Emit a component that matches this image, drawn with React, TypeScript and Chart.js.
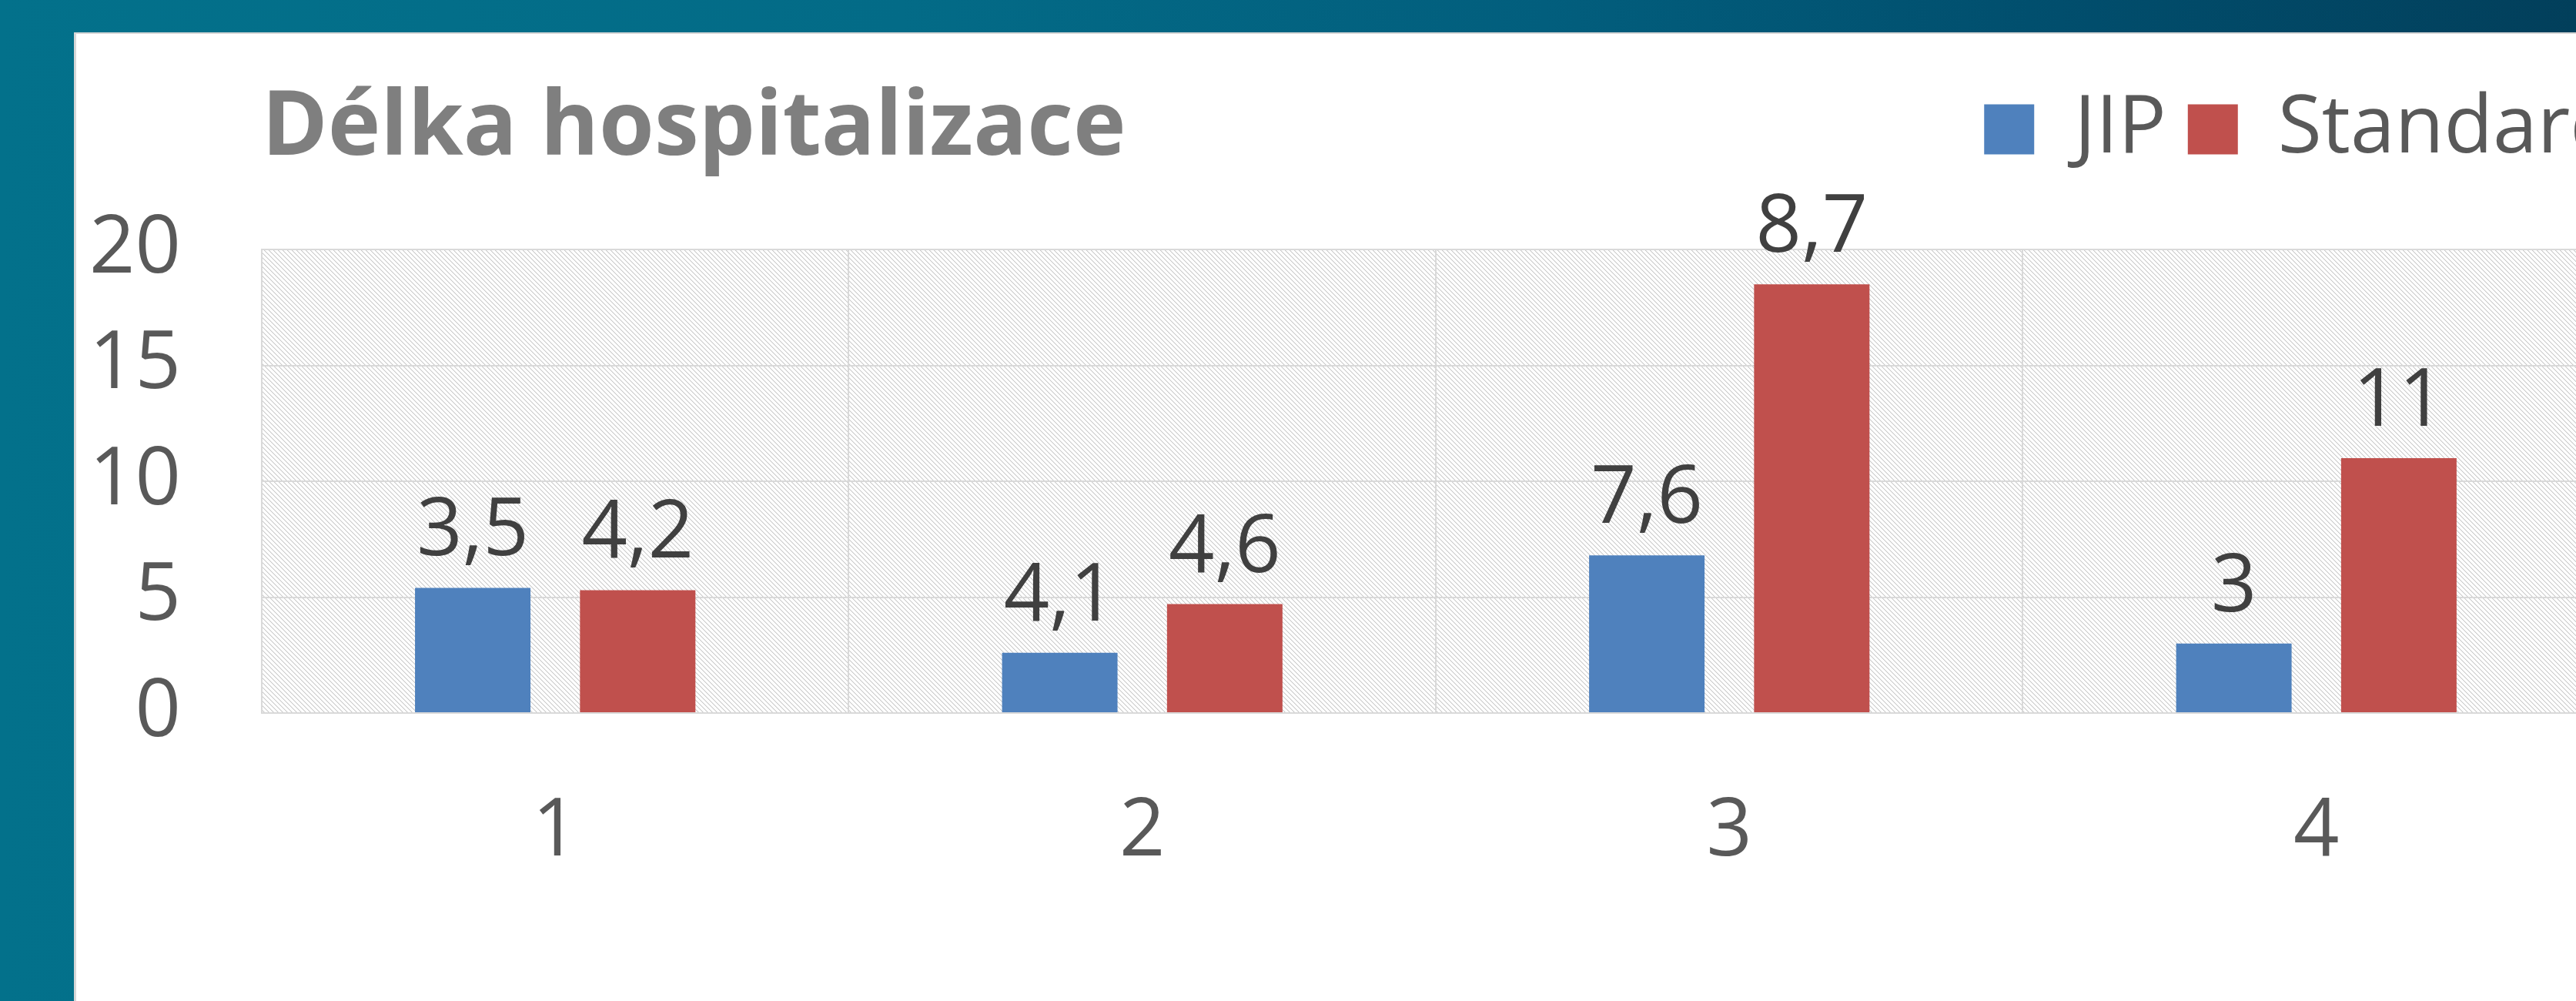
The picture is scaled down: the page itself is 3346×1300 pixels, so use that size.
import React, { useEffect, useRef } from "react";
import { Chart, registerables } from "chart.js";

Chart.register(...registerables);

// ---- data ----
const TITLE = "Délka hospitalizace";
const CATEGORIES = ["1", "2", "3", "4"];
const SERIES_NAMES = ["JIP", "Standard"];
const JIP_VALUES = [5.4, 2.6, 6.8, 3.0];
const STANDARD_VALUES = [5.3, 4.7, 18.5, 11.0];
const JIP_LABELS = [3.5, 4.1, 7.6, 3];
const STANDARD_LABELS = [4.2, 4.6, 8.7, 11];
const Y_MIN = 0;
const Y_MAX = 20;
const Y_STEP = 5;

// ---- style ----
const FONT = '"Open Sans", "Noto Sans", sans-serif';
const FONT_SIZE = 104;
const TITLE_SIZE = 116;
const LEGEND_PAD = 28;
const LEGEND_SHIFT_X = 40;
const ROW_MID_ABOVE_PLOT = 156; // distance from plot top to title/legend row centre
const LABEL_GAP = 42;
const CANVAS_W = 3440;
const CANVAS_H = 1300;
const BLUE = "#4F81BD";
const RED = "#C0504D";
const GRID = "#d9d9d9";

const fmt = (v: number) => String(v).replace(".", ",");

function makeHatch(): CanvasPattern | string {
  const n = 6;
  const c = document.createElement("canvas");
  c.width = n;
  c.height = n;
  const g = c.getContext("2d");
  if (!g) return "#eeeeee";
  g.fillStyle = "#ffffff";
  g.fillRect(0, 0, n, n);
  for (let i = 0; i < n; i++) {
    g.fillStyle = "#cbcbcb";
    g.fillRect(i, i, 1, 1);
    g.fillStyle = "#e8e8e8";
    g.fillRect((i + 1) % n, i, 1, 1);
  }
  const p = g.createPattern(c, "repeat");
  return p || "#eeeeee";
}

const hatchPlugin = {
  id: "hatchArea",
  beforeDraw(chart: any) {
    const { ctx, chartArea } = chart;
    if (!chartArea) return;
    ctx.save();
    ctx.fillStyle = makeHatch();
    ctx.fillRect(chartArea.left, chartArea.top, chartArea.right - chartArea.left, chartArea.bottom - chartArea.top);
    ctx.restore();
  },
};

// put the title and the legend on one row above the plot
const headerRowPlugin = {
  id: "headerRow",
  afterLayout(chart: any) {
    const lg = chart.legend;
    const tb = chart.titleBlock;
    const mid = chart.chartArea.top - ROW_MID_ABOVE_PLOT;
    if (tb) {
      const th = tb.height;
      tb.top = mid - th / 2;
      tb.bottom = tb.top + th;
    }
    if (lg) {
      const lh = lg.height;
      lg.top = mid - FONT_SIZE / 2 - LEGEND_PAD;
      lg.bottom = lg.top + lh;
      lg.left += LEGEND_SHIFT_X;
      lg.right += LEGEND_SHIFT_X;
    }
  },
};

const valueLabelPlugin = {
  id: "valueLabels",
  afterDatasetsDraw(chart: any) {
    const { ctx } = chart;
    const labelSets = [JIP_LABELS, STANDARD_LABELS];
    ctx.save();
    ctx.font = `${FONT_SIZE}px ${FONT}`;
    ctx.fillStyle = "#404040";
    ctx.textAlign = "center";
    ctx.textBaseline = "alphabetic";
    labelSets.forEach((labels, i) => {
      const meta = chart.getDatasetMeta(i);
      meta.data.forEach((bar: any, j: number) => {
        ctx.fillText(fmt(labels[j]), bar.x, bar.y - LABEL_GAP);
      });
    });
    ctx.restore();
  },
};

export default function App() {
  const ref = useRef<HTMLCanvasElement | null>(null);

  useEffect(() => {
    let chart: Chart | null = null;
    let cancelled = false;
    const build = () => {
      if (cancelled || !ref.current) return;
      chart = new Chart(ref.current, {
        type: "bar",
        data: {
          labels: CATEGORIES,
          datasets: [
            { label: SERIES_NAMES[0], data: JIP_VALUES, backgroundColor: BLUE, borderWidth: 0 },
            { label: SERIES_NAMES[1], data: STANDARD_VALUES, backgroundColor: RED, borderWidth: 0 },
          ],
        },
        options: {
          responsive: false,
          animation: false,
          devicePixelRatio: 1,
          datasets: { bar: { categoryPercentage: 0.562, barPercentage: 0.7 } },
          layout: { padding: { top: 66, left: 11, right: 50, bottom: 64 } },
          plugins: {
            tooltip: { enabled: false },
            title: {
              display: true,
              text: TITLE,
              position: "top",
              align: "start",
              fullSize: false,
              color: "#7f7f7f",
              font: { family: FONT, size: TITLE_SIZE, weight: "bold", lineHeight: 1 },
              padding: 0,
            },
            legend: {
              display: true,
              position: "top",
              align: "end",
              labels: {
                color: "#595959",
                font: { family: FONT, size: FONT_SIZE, lineHeight: 1 },
                boxWidth: 65,
                boxHeight: 65,
                padding: LEGEND_PAD,
              },
            },
          },
          scales: {
            x: {
              grid: { color: GRID, lineWidth: 2, drawTicks: false, offset: true },
              border: { color: GRID, width: 2 },
              ticks: {
                color: "#595959",
                font: { family: FONT, size: FONT_SIZE, lineHeight: 1 },
                padding: 103,
              },
            },
            y: {
              min: Y_MIN,
              max: Y_MAX,
              grid: { color: GRID, lineWidth: 2, drawTicks: false },
              border: { color: GRID, width: 2 },
              ticks: {
                stepSize: Y_STEP,
                color: "#595959",
                font: { family: FONT, size: FONT_SIZE, lineHeight: 1 },
                padding: 105,
              },
            },
          },
        },
        plugins: [hatchPlugin, headerRowPlugin, valueLabelPlugin],
      } as any);
    };
    const fonts: any = (document as any).fonts;
    if (fonts && fonts.load) {
      Promise.all([
        fonts.load(`${FONT_SIZE}px "Open Sans"`),
        fonts.load(`bold ${TITLE_SIZE}px "Open Sans"`),
      ]).then(build, build);
    } else {
      build();
    }
    return () => {
      cancelled = true;
      if (chart) chart.destroy();
    };
  }, []);

  return (
    <div
      style={{
        position: "fixed",
        left: 0,
        top: 0,
        width: "100vw",
        height: "100vh",
        overflow: "hidden",
        background:
          "linear-gradient(90deg, #03718b 0%, #036b87 35%, #025e7d 60%, #014e6d 80%, #023f5b 100%)",
      }}
    >
      <div
        style={{
          position: "absolute",
          left: 96,
          top: 42,
          right: 0,
          bottom: 0,
          background: "#ffffff",
          borderTop: "2px solid #d6d6d6",
          borderLeft: "3px solid #d6d6d6",
        }}
      />
      <canvas
        ref={ref}
        width={CANVAS_W}
        height={CANVAS_H}
        style={{ position: "absolute", left: 0, top: 0, width: CANVAS_W, height: CANVAS_H }}
      />
    </div>
  );
}
